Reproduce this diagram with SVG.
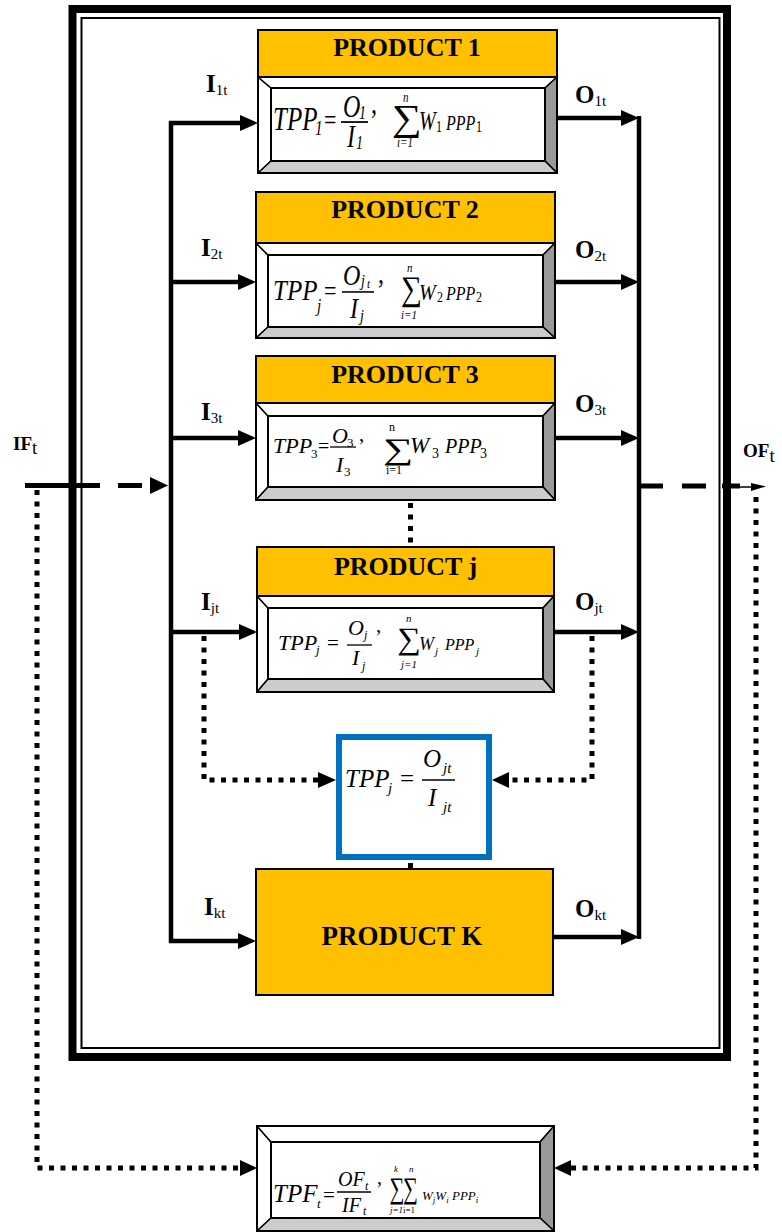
<svg xmlns="http://www.w3.org/2000/svg" width="782" height="1232" viewBox="0 0 782 1232">
<defs>
<style>
.frameThick{fill:none;stroke:#000;stroke-width:8}
.frameThin{fill:none;stroke:#000;stroke-width:2}
.hdr{fill:#FFC000;stroke:#000;stroke-width:2}
.bl{fill:#fff;stroke:#000;stroke-width:1.5;stroke-linejoin:round}
.bt{fill:#fff;stroke:#000;stroke-width:1.5;stroke-linejoin:round}
.br{fill:#999;stroke:#000;stroke-width:1.5;stroke-linejoin:round}
.bb{fill:#ccc;stroke:#000;stroke-width:1.5;stroke-linejoin:round}
.outer{fill:none;stroke:#000;stroke-width:2}
.inner{fill:#fff;stroke:#000;stroke-width:2}
.blue{fill:#fff;stroke:#0070C0;stroke-width:6}
.ht{font-family:"Liberation Serif","Times New Roman",serif;font-weight:bold;font-size:26px;text-anchor:middle;fill:#000}
.lbl{font-family:"Liberation Serif","Times New Roman",serif;font-weight:bold;font-size:25px;fill:#000}
.lsub{font-weight:normal;font-size:15px}
.f{font-family:"Liberation Serif","Times New Roman",serif;font-style:italic;fill:#000}
.u{font-family:"Liberation Serif","Times New Roman",serif;font-style:normal;fill:#000}
.fl{stroke:#000;stroke-width:1.3}
.ln{fill:none;stroke:#000;stroke-width:4.5}
.dash{fill:none;stroke:#000;stroke-width:5}
.dot{fill:none;stroke:#000;stroke-width:5;stroke-dasharray:5 6.5}
</style>
<marker id="ah" viewBox="0 -8 18 16" refX="0" refY="0" markerWidth="18" markerHeight="16" markerUnits="userSpaceOnUse" orient="auto">
<path d="M0,-8 L18,0 L0,8 z" fill="#000"/>
</marker>
</defs>
<rect width="782" height="1232" fill="#fff"/>

<g id="frame">
<rect class="frameThick" x="72.5" y="9" width="654.5" height="1048"/>
<rect class="frameThin" x="81.5" y="18" width="638" height="1030"/>
</g>

<g id="connectors">
<line class="ln" x1="171" y1="121" x2="171" y2="943"/>
<line class="ln" x1="639" y1="116" x2="639" y2="939"/>
<line class="ln" x1="169" y1="123" x2="240" y2="123" marker-end="url(#ah)"/>
<line class="ln" x1="171" y1="282" x2="238" y2="282" marker-end="url(#ah)"/>
<line class="ln" x1="171" y1="438" x2="238" y2="438" marker-end="url(#ah)"/>
<line class="ln" x1="171" y1="632" x2="239" y2="632" marker-end="url(#ah)"/>
<line class="ln" x1="169" y1="941" x2="238" y2="941" marker-end="url(#ah)"/>
<line class="ln" x1="557" y1="118" x2="621" y2="118" marker-end="url(#ah)"/>
<line class="ln" x1="555" y1="282" x2="621" y2="282" marker-end="url(#ah)"/>
<line class="ln" x1="555" y1="438" x2="621" y2="438" marker-end="url(#ah)"/>
<line class="ln" x1="554" y1="632" x2="621" y2="632" marker-end="url(#ah)"/>
<line class="ln" x1="553" y1="937" x2="621" y2="937" marker-end="url(#ah)"/>
<path class="dash" d="M25,485.5 H100 M118,485.5 H142"/>
<path d="M150,477 L168,485.5 L150,494 z" fill="#000"/>
<path class="dash" d="M639,486 H663 M682,486 H706 M722,486 H740"/>
<line x1="740" y1="487" x2="753" y2="487" stroke="#000" stroke-width="1.5"/>
<path d="M751,483 L766,486.5 L751,491 z" fill="#000"/>
<path class="dot" d="M37,490 V1168 H240"/>
<path d="M240,1160 L257,1168 L240,1176 z" fill="#000"/>
<path class="dot" d="M756,497 V1168 H571"/>
<path d="M571,1160 L554,1168 L571,1176 z" fill="#000"/>
<path class="dot" d="M204,636 V780 H318"/>
<path d="M318,772 L336,780 L318,788 z" fill="#000"/>
<path class="dot" d="M592,636 V780 H509"/>
<path d="M509,772 L492,780 L509,788 z" fill="#000"/>
<path class="dot" d="M410.5,503 V547"/>
<line x1="410.5" y1="863" x2="410.5" y2="869" stroke="#000" stroke-width="5"/>
</g>

<g id="labels">
<text class="lbl" x="206" y="92">I<tspan class="lsub" dy="3">1t</tspan></text>
<text class="lbl" x="201" y="256">I<tspan class="lsub" dy="3">2t</tspan></text>
<text class="lbl" x="201" y="420">I<tspan class="lsub" dy="3">3t</tspan></text>
<text class="lbl" x="201" y="610">I<tspan class="lsub" dy="3">jt</tspan></text>
<text class="lbl" x="204" y="915">I<tspan class="lsub" dy="3">kt</tspan></text>
<text class="lbl" x="575" y="103">O<tspan class="lsub" dy="3">1t</tspan></text>
<text class="lbl" x="575" y="258">O<tspan class="lsub" dy="3">2t</tspan></text>
<text class="lbl" x="575" y="412">O<tspan class="lsub" dy="3">3t</tspan></text>
<text class="lbl" x="575" y="610">O<tspan class="lsub" dy="3">jt</tspan></text>
<text class="lbl" x="575" y="917">O<tspan class="lsub" dy="3">kt</tspan></text>
<text class="lbl" x="13" y="450" style="font-size:19px">IF<tspan class="lsub" dy="4" style="font-size:19px">t</tspan></text>
<text class="lbl" x="743" y="457" style="font-size:19px">OF<tspan class="lsub" dy="5" style="font-size:19px">t</tspan></text>
</g>

<g id="product1">
<rect class="hdr" x="258" y="30" width="299" height="47"/>
<text class="ht" x="407" y="56">PRODUCT 1</text>
<polygon class="bl" points="258,77 271,88 271,161 258,173"/>
<polygon class="bt" points="258,77 557,77 545,88 271,88"/>
<polygon class="br" points="557,77 557,173 545,161 545,88"/>
<polygon class="bb" points="258,173 271,161 545,161 557,173"/>
<rect class="outer" x="258" y="77" width="299" height="96"/>
<rect class="inner" x="271" y="88" width="274" height="73"/>
<g transform="matrix(1,0,0,1.35,0,-45.5)">
<text class="f" x="273" y="130" font-size="25">TPP</text>
<text class="f" x="315" y="133.7" font-size="15">1</text>
<text class="u" x="324" y="130" font-size="22">=</text>
<line class="fl" x1="341" y1="124.1" x2="368" y2="124.1"/>
<text class="f" x="343" y="120.4" font-size="24">O</text>
<text class="f" x="359" y="121.9" font-size="14">1</text>
<text class="f" x="347" y="142.6" font-size="24">I</text>
<text class="f" x="356" y="144" font-size="14">1</text>
<text class="u" x="371" y="117.4" font-size="24">,</text>
<text class="f" x="403" y="109" font-size="11">n</text>
<text class="u" font-size="27" transform="translate(392,130) scale(1.55,1)">∑</text>
<text class="f" x="397" y="142.5" font-size="11">i=1</text>
<text class="f" x="419" y="130" font-size="20">W</text>
<text class="u" x="436" y="131.5" font-size="12">1</text>
<text class="f" x="446" y="130" font-size="16">PPP</text>
<text class="u" x="476" y="131.5" font-size="12">1</text>
</g>
</g>

<g id="product2">
<rect class="hdr" x="256" y="192" width="299" height="51"/>
<text class="ht" x="405" y="218">PRODUCT 2</text>
<polygon class="bl" points="256,243 268,255 268,327 256,338"/>
<polygon class="bt" points="256,243 555,243 543,255 268,255"/>
<polygon class="br" points="555,243 555,338 543,327 543,255"/>
<polygon class="bb" points="256,338 268,327 543,327 555,338"/>
<rect class="outer" x="256" y="243" width="299" height="95"/>
<rect class="inner" x="268" y="255" width="275" height="72"/>
<g transform="matrix(1,0,0,1.2,0,-60)">
<text class="f" x="273" y="300" font-size="25">TPP</text>
<text class="f" x="317" y="310" font-size="15">j</text>
<text class="u" x="324" y="300" font-size="22">=</text>
<line class="fl" x1="342" y1="293.3" x2="374" y2="293.3"/>
<text class="f" x="343" y="287.5" font-size="24">O</text>
<text class="f" x="361" y="288.5" font-size="14">j</text>
<text class="f" x="367" y="290" font-size="11">t</text>
<text class="f" x="350" y="315" font-size="24">I</text>
<text class="f" x="360" y="317.5" font-size="14">j</text>
<text class="u" x="378" y="285.8" font-size="24">,</text>
<text class="f" x="407" y="276.5" font-size="11">n</text>
<text class="u" font-size="29" transform="translate(401,300) scale(1.02,1)">∑</text>
<text class="f" x="401" y="315.5" font-size="11">i=1</text>
<text class="f" x="419" y="300" font-size="20">W</text>
<text class="u" x="437" y="302" font-size="12">2</text>
<text class="f" x="446" y="300" font-size="16">PPP</text>
<text class="u" x="476" y="302" font-size="12">2</text>
</g>
</g>

<g id="product3">
<rect class="hdr" x="256" y="356" width="299" height="47"/>
<text class="ht" x="405" y="383">PRODUCT 3</text>
<polygon class="bl" points="256,403 268,416 268,487 256,500"/>
<polygon class="bt" points="256,403 555,403 543,416 268,416"/>
<polygon class="br" points="555,403 555,500 543,487 543,416"/>
<polygon class="bb" points="256,500 268,487 543,487 555,500"/>
<rect class="outer" x="256" y="403" width="299" height="97"/>
<rect class="inner" x="268" y="416" width="275" height="71"/>
<text class="f" x="273" y="453" font-size="22">TPP</text>
<text class="u" x="311" y="458" font-size="13">3</text>
<text class="u" x="318" y="453" font-size="20">=</text>
<line class="fl" x1="330" y1="447" x2="356" y2="447"/>
<text class="f" x="332" y="443" font-size="22">O</text>
<text class="u" x="347" y="447" font-size="13">3</text>
<text class="f" x="336" y="472" font-size="22">I</text>
<text class="u" x="344" y="476" font-size="13">3</text>
<text class="u" x="359" y="441" font-size="21">,</text>
<text class="u" x="389" y="431" font-size="12">n</text>
<text class="u" font-size="30" transform="translate(383,459) scale(1.42,1)">∑</text>
<text class="u" x="386" y="474" font-size="12">i=1</text>
<text class="f" x="410" y="453" font-size="23">W</text>
<text class="u" x="432" y="458" font-size="14">3</text>
<text class="f" x="445" y="453" font-size="20">PPP</text>
<text class="u" x="480" y="458" font-size="14">3</text>
</g>

<g id="productj">
<rect class="hdr" x="257" y="547" width="297" height="49"/>
<text class="ht" x="405.5" y="575">PRODUCT j</text>
<polygon class="bl" points="257,596 268,608 268,679 257,692"/>
<polygon class="bt" points="257,596 554,596 543,608 268,608"/>
<polygon class="br" points="554,596 554,692 543,679 543,608"/>
<polygon class="bb" points="257,692 268,679 543,679 554,692"/>
<rect class="outer" x="257" y="596" width="297" height="96"/>
<rect class="inner" x="268" y="608" width="275" height="71"/>
<text class="f" x="278" y="650" font-size="22">TPP</text>
<text class="f" x="316" y="654" font-size="13">j</text>
<text class="u" x="327" y="650" font-size="21">=</text>
<line class="fl" x1="347" y1="645" x2="372" y2="645"/>
<text class="f" x="348" y="635" font-size="22">O</text>
<text class="f" x="364" y="639" font-size="12">j</text>
<text class="f" x="352" y="665" font-size="22">I</text>
<text class="f" x="362" y="670" font-size="12">j</text>
<text class="u" x="376" y="632" font-size="21">,</text>
<text class="f" x="406" y="622" font-size="11">n</text>
<text class="u" font-size="31" transform="translate(397,649) scale(1.07,1)">∑</text>
<text class="f" x="401" y="668" font-size="11">j=1</text>
<text class="f" x="419" y="650" font-size="18">W</text>
<text class="f" x="435" y="655" font-size="11">j</text>
<text class="f" x="445" y="650" font-size="16">PPP</text>
<text class="f" x="476" y="655" font-size="11">j</text>
</g>

<g id="tppj">
<rect class="blue" x="339" y="737" width="150" height="120"/>
<text class="f" x="345" y="787" font-size="25">TPP</text>
<text class="f" x="388" y="793" font-size="15">j</text>
<text class="u" x="400" y="787" font-size="25">=</text>
<line class="fl" x1="422" y1="780" x2="455" y2="780"/>
<text class="f" x="423" y="767" font-size="25">O</text>
<text class="f" x="443" y="773" font-size="15">jt</text>
<text class="f" x="428" y="806" font-size="25">I</text>
<text class="f" x="443" y="812" font-size="15">jt</text>
</g>

<g id="productK">
<rect class="hdr" x="256" y="869" width="297" height="126"/>
<text class="ht" x="402" y="945" style="font-size:27px">PRODUCT K</text>
</g>

<g id="tpf">
<polygon class="bl" points="257,1126 271,1142 271,1218 257,1231"/>
<polygon class="bt" points="257,1126 554,1126 540,1142 271,1142"/>
<polygon class="br" points="554,1126 554,1231 540,1218 540,1142"/>
<polygon class="bb" points="257,1231 271,1218 540,1218 554,1231"/>
<rect class="outer" x="257" y="1126" width="297" height="105"/>
<rect class="inner" x="271" y="1142" width="269" height="76"/>
<text class="f" x="273" y="1202" font-size="25">TPF</text>
<text class="f" x="317" y="1208" font-size="13">t</text>
<text class="u" x="323" y="1202" font-size="21">=</text>
<line class="fl" x1="337" y1="1192" x2="371" y2="1192"/>
<text class="f" x="338" y="1186" font-size="20">OF</text>
<text class="f" x="365" y="1190" font-size="12">t</text>
<text class="f" x="342" y="1212" font-size="20">IF</text>
<text class="f" x="363" y="1215" font-size="12">t</text>
<text class="u" x="377" y="1184" font-size="20">,</text>
<text class="f" x="394" y="1172" font-size="9">k</text>
<text class="u" font-size="30" transform="translate(389.5,1198) scale(0.7,1)">∑</text>
<text class="f" x="409" y="1172" font-size="9">n</text>
<text class="u" font-size="30" transform="translate(403,1198) scale(0.7,1)">∑</text>
<text class="f" x="390" y="1213" font-size="9">j=1</text>
<text class="u" x="403" y="1213" font-size="9">i=1</text>
<text class="f" x="422" y="1200" font-size="13">W<tspan font-size="9" dy="3">j</tspan><tspan dy="-3">W</tspan><tspan font-size="9" dy="3">i</tspan><tspan dy="-3"> PPP</tspan><tspan font-size="9" dy="3">i</tspan></text>
</g>
</svg>
